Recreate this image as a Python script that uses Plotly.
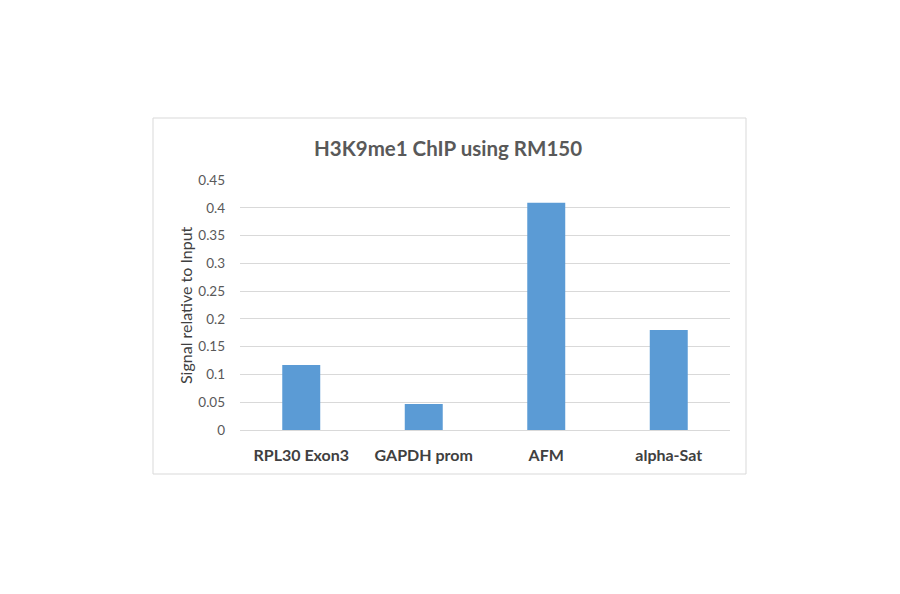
import plotly.graph_objects as go

categories = ["RPL30 Exon3", "GAPDH prom", "AFM", "alpha-Sat"]
signal = [0.117, 0.047, 0.409, 0.180]
y_ticks = [0, 0.05, 0.1, 0.15, 0.2, 0.25, 0.3, 0.35, 0.4, 0.45]
y_tick_text = ["0", "0.05", "0.1", "0.15", "0.2", "0.25", "0.3", "0.35", "0.4", "0.45"]

font_name = "Lato"

fig = go.Figure()
fig.add_trace(go.Bar(x=categories, y=signal, marker=dict(color="#5b9bd5", line=dict(width=0)),
                     width=0.31))

# page has an 8px body margin, so the plot area (page px 240..730, 180..430)
# is at figure px 232..722, 172..422
pw, ph = 490, 250
fig.add_shape(type="rect", xref="paper", yref="paper",
              x0=(153 - 240) / pw, x1=(746 - 240) / pw,
              y0=(430 - 474) / ph, y1=(430 - 118) / ph,
              line=dict(color="#d9d9d9", width=1), fillcolor="rgba(0,0,0,0)", layer="below")

fig.add_annotation(text="H3K9me1 ChIP using RM150", xref="paper", yref="paper",
                   x=(448 - 240) / pw, y=(430 - 148) / ph, showarrow=False,
                   xanchor="center", yanchor="middle",
                   font=dict(family=font_name, size=20.5, color="#595959", weight="bold"))

fig.add_annotation(text="Signal relative to Input", xref="paper", yref="paper",
                   x=(185 - 240) / pw, y=(430 - 305) / ph, showarrow=False, textangle=-90,
                   xanchor="center", yanchor="middle",
                   font=dict(family=font_name, size=16, color="#404040"))

fig.update_layout(
    width=900, height=594,
    margin=dict(l=232, r=178, t=172, b=172),
    paper_bgcolor="white", plot_bgcolor="white",
    showlegend=False,
    bargap=0.69,
    font=dict(family=font_name, color="#595959"),
    xaxis=dict(showline=False, ticks="", ticklabelstandoff=14,
               tickfont=dict(size=16, color="#404040", family=font_name, weight="bold")),
    yaxis=dict(range=[0, 0.45], tickvals=y_ticks, ticktext=y_tick_text,
               showgrid=True, gridcolor="#d9d9d9", gridwidth=1,
               zeroline=True, zerolinecolor="#d9d9d9", zerolinewidth=1,
               showline=False, ticks="", ticklabelstandoff=14,
               tickfont=dict(size=13.5, color="#595959", family=font_name)),
)

fig.write_html("out.html")
